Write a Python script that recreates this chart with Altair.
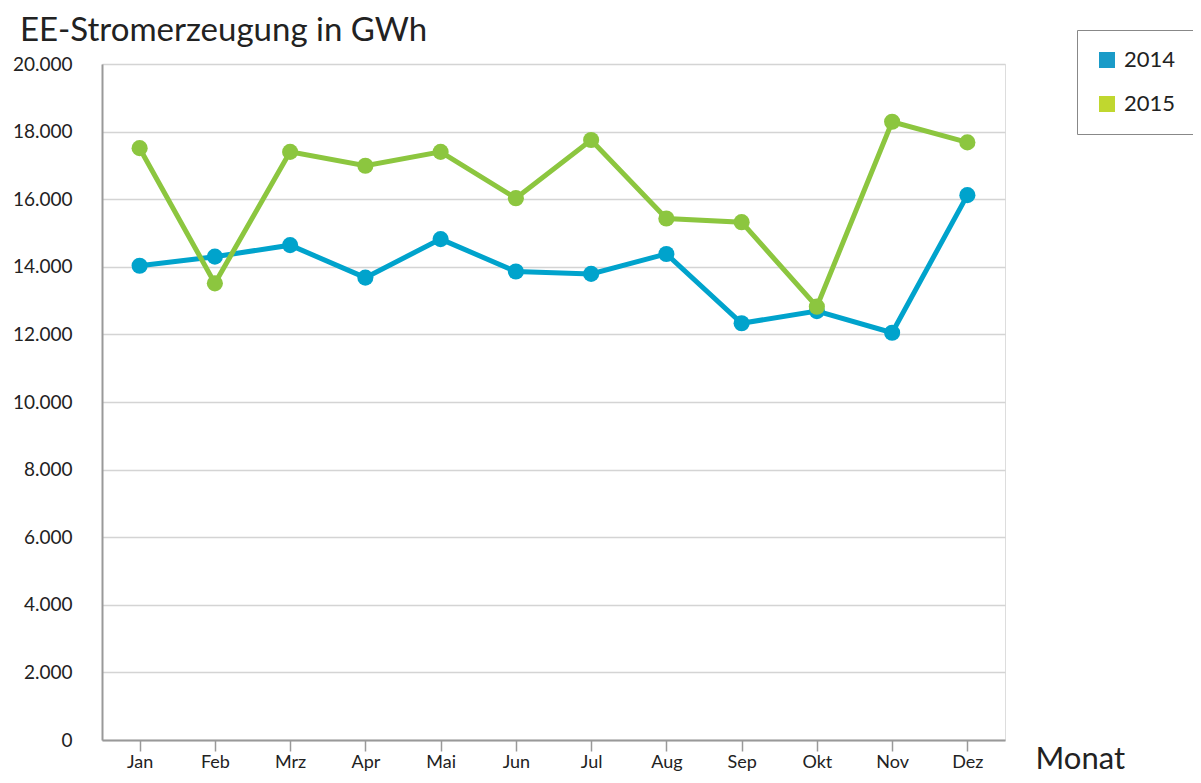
import altair as alt
import pandas as pd

months = ["Jan", "Feb", "Mrz", "Apr", "Mai", "Jun", "Jul", "Aug", "Sep", "Okt", "Nov", "Dez"]
v2014 = [14030, 14300, 14640, 13680, 14820, 13860, 13790, 14380, 12330, 12690, 12050, 16120]
v2015 = [17510, 13510, 17400, 16990, 17400, 16030, 17750, 15430, 15320, 12820, 18290, 17680]
years = ["2014", "2015"]
y_ticks = list(range(0, 20001, 2000))

rows = []
for m, a, b in zip(months, v2014, v2015):
    rows.append({"Monat": m, "Jahr": years[0], "Wert": a})
    rows.append({"Monat": m, "Jahr": years[1], "Wert": b})
df = pd.DataFrame(rows)

FONT = "Lato"
TXT = "#222222"
line_colors = ["#00a3cc", "#8cc63f"]
legend_colors = ["#1a9bc8", "#c0d72f"]

x_enc = alt.X(
    "Monat:N",
    sort=months,
    scale=alt.Scale(type="point", padding=0.5),
    axis=alt.Axis(
        title="Monat", titleFont=FONT, titleFontSize=31, titleFontWeight="normal",
        titleColor=TXT, titleX=933, titleY=28, titleAlign="left",
        titleBaseline="alphabetic", titleAnchor="start",
        labelFont=FONT, labelFontSize=18, labelColor=TXT, labelAngle=0,
        labelPadding=2, tickSize=11, tickColor="#999999", tickWidth=1.5,
        domainColor="#999999", domainWidth=2, grid=False,
    ),
)
y_enc = alt.Y(
    "Wert:Q",
    scale=alt.Scale(domain=[0, 20000], nice=False),
    axis=alt.Axis(
        title=None, values=y_ticks,
        labelExpr="replace(format(datum.value, ',d'), ',', '.')",
        labelFont=FONT, labelFontSize=19, labelColor=TXT, labelPadding=30,
        ticks=False, domainColor="#999999", domainWidth=2,
        grid=True, gridColor="#d4d4d4", gridWidth=1.5,
    ),
)

legend_layer = alt.Chart(df).mark_square(size=0, opacity=1).encode(
    x=x_enc, y=y_enc,
    fill=alt.Fill(
        "Jahr:N",
        scale=alt.Scale(domain=years, range=legend_colors),
        legend=alt.Legend(
            title=None, orient="none", legendX=975, legendY=-34,
            symbolType="square", symbolSize=256, symbolStrokeWidth=0,
            labelFont=FONT, labelFontSize=22, labelColor=TXT, labelOffset=6,
            rowPadding=22, padding=19, strokeColor="#888888",
            fillColor="white", cornerRadius=0, labelLimit=300,
        ),
    ),
)

lines = alt.Chart(df).mark_line(strokeWidth=5).encode(
    x=x_enc, y=y_enc,
    color=alt.Color("Jahr:N", scale=alt.Scale(domain=years, range=line_colors), legend=None),
)
points = alt.Chart(df).mark_circle(size=260, opacity=1).encode(
    x=x_enc, y=y_enc,
    color=alt.Color("Jahr:N", scale=alt.Scale(domain=years, range=line_colors), legend=None),
)

chart = alt.layer(legend_layer, lines, points).properties(
    width=903, height=676,
    title=alt.TitleParams(
        "EE-Stromerzeugung in GWh", anchor="start", frame="group",
        font=FONT, fontSize=33, fontWeight="normal", color=TXT, dx=-82, dy=32, offset=14,
    ),
    autosize=alt.AutoSizeParams(type="none"),
    padding={"left": 94, "top": 56, "right": 188, "bottom": 35},
).resolve_scale(color="independent").configure_view(stroke=None).configure(background="white")

chart.save("out.html", embed_options={"renderer": "svg", "actions": False})
